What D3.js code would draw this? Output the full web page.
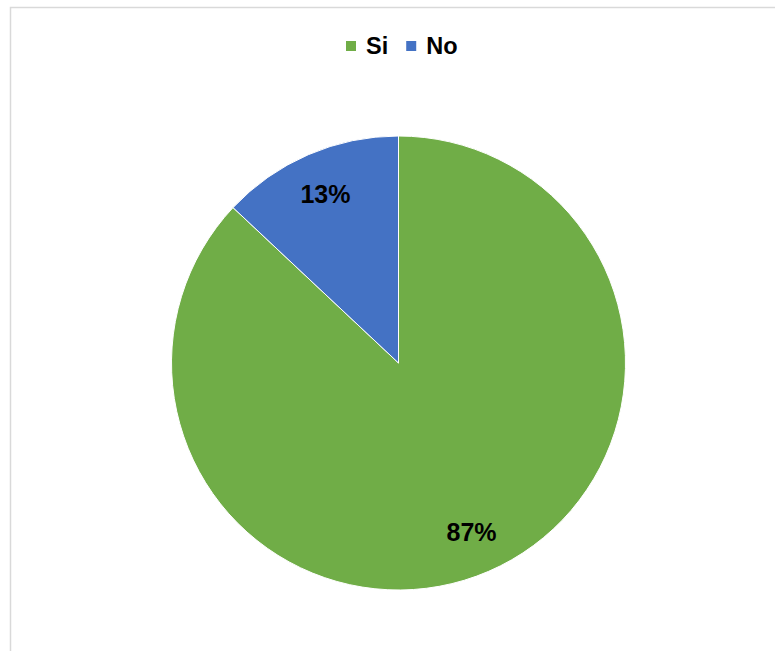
<!DOCTYPE html>
<html>
<head>
<meta charset="utf-8">
<script src="https://cdn.jsdelivr.net/npm/d3@7"></script>
<style>
  html, body { margin: 0; padding: 0; background: #ffffff; }
  svg { display: block; }
</style>
</head>
<body>
<svg id="chart" width="775" height="651"></svg>
<script>
// Survey answers and their shares (percent)
const categories = ["Si", "No"];
const values = [87, 13];
const colors = ["#70AD47", "#4472C4"];

const width = 775, height = 651;
const svg = d3.select("#chart");

// Chart area frame (open on the right and bottom edges of the page)
svg.append("path")
  .attr("d", `M10.5,${height} L10.5,7.5 L${width},7.5`)
  .attr("fill", "none")
  .attr("stroke", "#d9d9d9")
  .attr("stroke-width", 1.5);

const cx = 398.5, cy = 363, radius = 227;

const pie = d3.pie().sort(null).value(d => d.value);
const arcs = pie(categories.map((c, i) => ({ name: c, value: values[i], color: colors[i] })));

const arc = d3.arc().innerRadius(0).outerRadius(radius);
const labelArc = d3.arc().innerRadius(radius * 0.81).outerRadius(radius * 0.81);

const g = svg.append("g").attr("transform", `translate(${cx},${cy})`);

g.selectAll("path.slice")
  .data(arcs)
  .join("path")
  .attr("class", "slice")
  .attr("d", arc)
  .attr("fill", d => d.data.color)
  .attr("stroke", "#ffffff")
  .attr("stroke-width", 1);

const total = d3.sum(values);
g.selectAll("text.label")
  .data(arcs)
  .join("text")
  .attr("class", "label")
  .attr("transform", d => `translate(${labelArc.centroid(d)})`)
  .attr("text-anchor", "middle")
  .attr("dominant-baseline", "central")
  .attr("font-family", "Liberation Sans, Arial, sans-serif")
  .attr("font-weight", "bold")
  .attr("font-size", 25)
  .attr("fill", "#000000")
  .text(d => `${Math.round(d.data.value / total * 100)}%`);

// Legend across the top
const legend = svg.append("g").attr("font-family", "Liberation Sans, Arial, sans-serif")
  .attr("font-weight", "bold").attr("font-size", 23.5);
let x = 346;
categories.forEach((c, i) => {
  legend.append("rect")
    .attr("x", x).attr("y", 41).attr("width", 10).attr("height", 10)
    .attr("fill", colors[i]);
  const t = legend.append("text")
    .attr("x", x + 20).attr("y", 54)
    .attr("fill", "#000000")
    .text(c);
  x += 20 + t.node().getComputedTextLength() + 18;
});
</script>
</body>
</html>
